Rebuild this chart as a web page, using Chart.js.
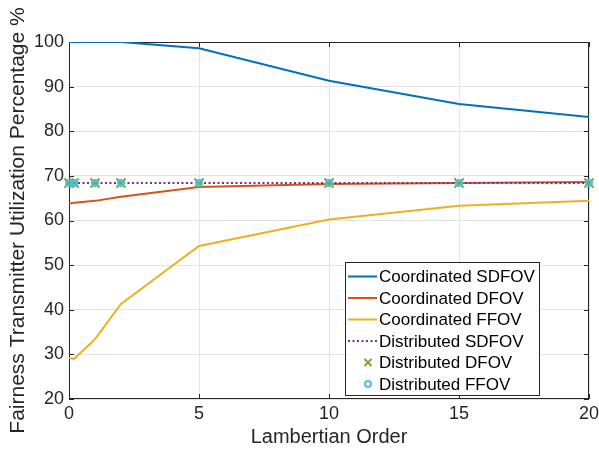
<!DOCTYPE html>
<html>
<head>
<meta charset="utf-8">
<script src="https://cdn.jsdelivr.net/npm/chart.js@4"></script>
<style>
  html, body { margin: 0; padding: 0; background: #fff; }
  #wrap { width: 599px; height: 455px; }
</style>
</head>
<body>
<div id="wrap"><canvas id="chart" width="599" height="455"></canvas></div>
<script>
// values
const lambertianOrder = [0, 0.2, 1, 2, 5, 10, 15, 20];
const coordSDFOV = [100, 100, 100, 100, 98.6, 91.3, 86.1, 83.2];
const coordDFOV = [63.8, 64.0, 64.4, 65.3, 67.5, 68.2, 68.4, 68.6];
const coordFFOV = [29.2, 29.0, 33.4, 41.3, 54.3, 60.2, 63.3, 64.4];
const distSDFOV = [68.4, 68.4, 68.4, 68.4, 68.4, 68.4, 68.4, 68.4];
const distDFOV = [68.4, 68.4, 68.4, 68.4, 68.4, 68.4, 68.4, 68.4];
const distFFOV = [68.4, 68.4, 68.4, 68.4, 68.4, 68.4, 68.4, 68.4];
const seriesNames = [
  "Coordinated SDFOV", "Coordinated DFOV", "Coordinated FFOV",
  "Distributed SDFOV", "Distributed DFOV", "Distributed FFOV",
];

const FONT = "'Liberation Sans', Arial, Helvetica, sans-serif";
const AXIS = "#262626";

function pts(ys) {
  return lambertianOrder.map((x, i) => ({ x: x, y: ys[i] }));
}

function lineSet(i, ys, color, dash) {
  return {
    label: seriesNames[i],
    data: pts(ys),
    borderColor: color,
    backgroundColor: color,
    borderWidth: 2,
    borderDash: dash || [],
    pointRadius: 0,
    showLine: true,
    order: 6 - i,
  };
}

function markerSet(i, ys, color, style, r, w) {
  return {
    label: seriesNames[i],
    data: pts(ys),
    borderColor: color,
    backgroundColor: "rgba(0,0,0,0)",
    borderWidth: w,
    pointStyle: style,
    pointRadius: r,
    showLine: false,
    clip: false,
    order: 6 - i,
  };
}

// box around the axes with inward ticks, plus the boxed legend inside the plot
const frame = {
  id: "frame",
  beforeDatasetsDraw(chart) {
    const { ctx, chartArea: a, scales } = chart;
    ctx.save();
    ctx.strokeStyle = AXIS;
    ctx.lineWidth = 1;
    ctx.strokeRect(a.left + 0.5, a.top + 0.5, a.right - a.left - 1, a.bottom - a.top - 1);
    const len = 5;
    ctx.beginPath();
    scales.x.ticks.forEach((t) => {
      const px = Math.round(scales.x.getPixelForValue(t.value)) + 0.5;
      ctx.moveTo(px, a.bottom); ctx.lineTo(px, a.bottom - len);
      ctx.moveTo(px, a.top); ctx.lineTo(px, a.top + len);
    });
    scales.y.ticks.forEach((t) => {
      const py = Math.round(scales.y.getPixelForValue(t.value)) + 0.5;
      ctx.moveTo(a.left, py); ctx.lineTo(a.left + len, py);
      ctx.moveTo(a.right, py); ctx.lineTo(a.right - len, py);
    });
    ctx.stroke();
    ctx.restore();
  },
  afterDatasetsDraw(chart) {
    const ctx = chart.ctx;
    const box = { x: 345, y: 262, w: 194, h: 133 };
    ctx.save();
    ctx.fillStyle = "#fff";
    ctx.fillRect(box.x, box.y, box.w, box.h);
    ctx.strokeStyle = AXIS;
    ctx.lineWidth = 1;
    ctx.strokeRect(box.x + 0.5, box.y + 0.5, box.w, box.h);
    ctx.font = "17px " + FONT;
    ctx.textBaseline = "middle";
    ctx.fillStyle = "#000";
    chart.data.datasets.forEach((ds, i) => {
      const y = 276.5 + i * 21.5;
      ctx.save();
      ctx.strokeStyle = ds.borderColor;
      ctx.lineWidth = ds.showLine ? 2 : ds.borderWidth;
      ctx.beginPath();
      if (ds.showLine) {
        ctx.setLineDash(ds.borderDash);
        ctx.moveTo(348, y); ctx.lineTo(377, y);
      } else if (ds.pointStyle === "crossRot") {
        const d = 3.5;
        ctx.moveTo(368 - d, y - d); ctx.lineTo(368 + d, y + d);
        ctx.moveTo(368 - d, y + d); ctx.lineTo(368 + d, y - d);
      } else {
        ctx.arc(368, y, ds.pointRadius, 0, Math.PI * 2);
      }
      ctx.stroke();
      ctx.restore();
      ctx.fillText(ds.label, 379, y + 1);
    });
    ctx.restore();
  },
};

new Chart(document.getElementById("chart"), {
  type: "line",
  data: {
    datasets: [
      lineSet(0, coordSDFOV, "#0072BD"),
      lineSet(1, coordDFOV, "#D95319"),
      lineSet(2, coordFFOV, "#EDB120"),
      lineSet(3, distSDFOV, "#7E2F8E", [2, 2.5]),
      markerSet(4, distDFOV, "#77AC30", "crossRot", 6.5, 2),
      markerSet(5, distFFOV, "#4DBEEE", "circle", 3, 2),
    ],
  },
  options: {
    responsive: false,
    animation: false,
    layout: { padding: { left: 0, top: 42, right: 10, bottom: 0 } },
    plugins: { legend: { display: false }, tooltip: { enabled: false } },
    scales: {
      x: {
        type: "linear",
        min: 0,
        max: 20,
        ticks: { stepSize: 5, color: AXIS, font: { family: FONT, size: 18 }, padding: 4, maxRotation: 0 },
        grid: { color: "#e3e3e3", drawTicks: false },
        border: { display: false },
        title: { display: true, text: "Lambertian Order", color: AXIS, font: { family: FONT, size: 20 }, padding: { top: 2, bottom: 6 } },
        afterFit(scale) {
          scale.height = 56;
          scale.paddingLeft = 0;
          scale.paddingRight = 0;
        },
      },
      y: {
        min: 20,
        max: 100,
        ticks: { stepSize: 10, color: AXIS, font: { family: FONT, size: 18 }, padding: 5 },
        grid: { color: "#e3e3e3", drawTicks: false },
        border: { display: false },
        title: { display: true, text: "Fairness Transmitter Utilization Percentage %", color: AXIS, font: { family: FONT, size: 21 }, padding: { top: 6, bottom: 0 } },
        afterFit(scale) { scale.width = 69; },
      },
    },
  },
  plugins: [frame],
});
</script>
</body>
</html>
